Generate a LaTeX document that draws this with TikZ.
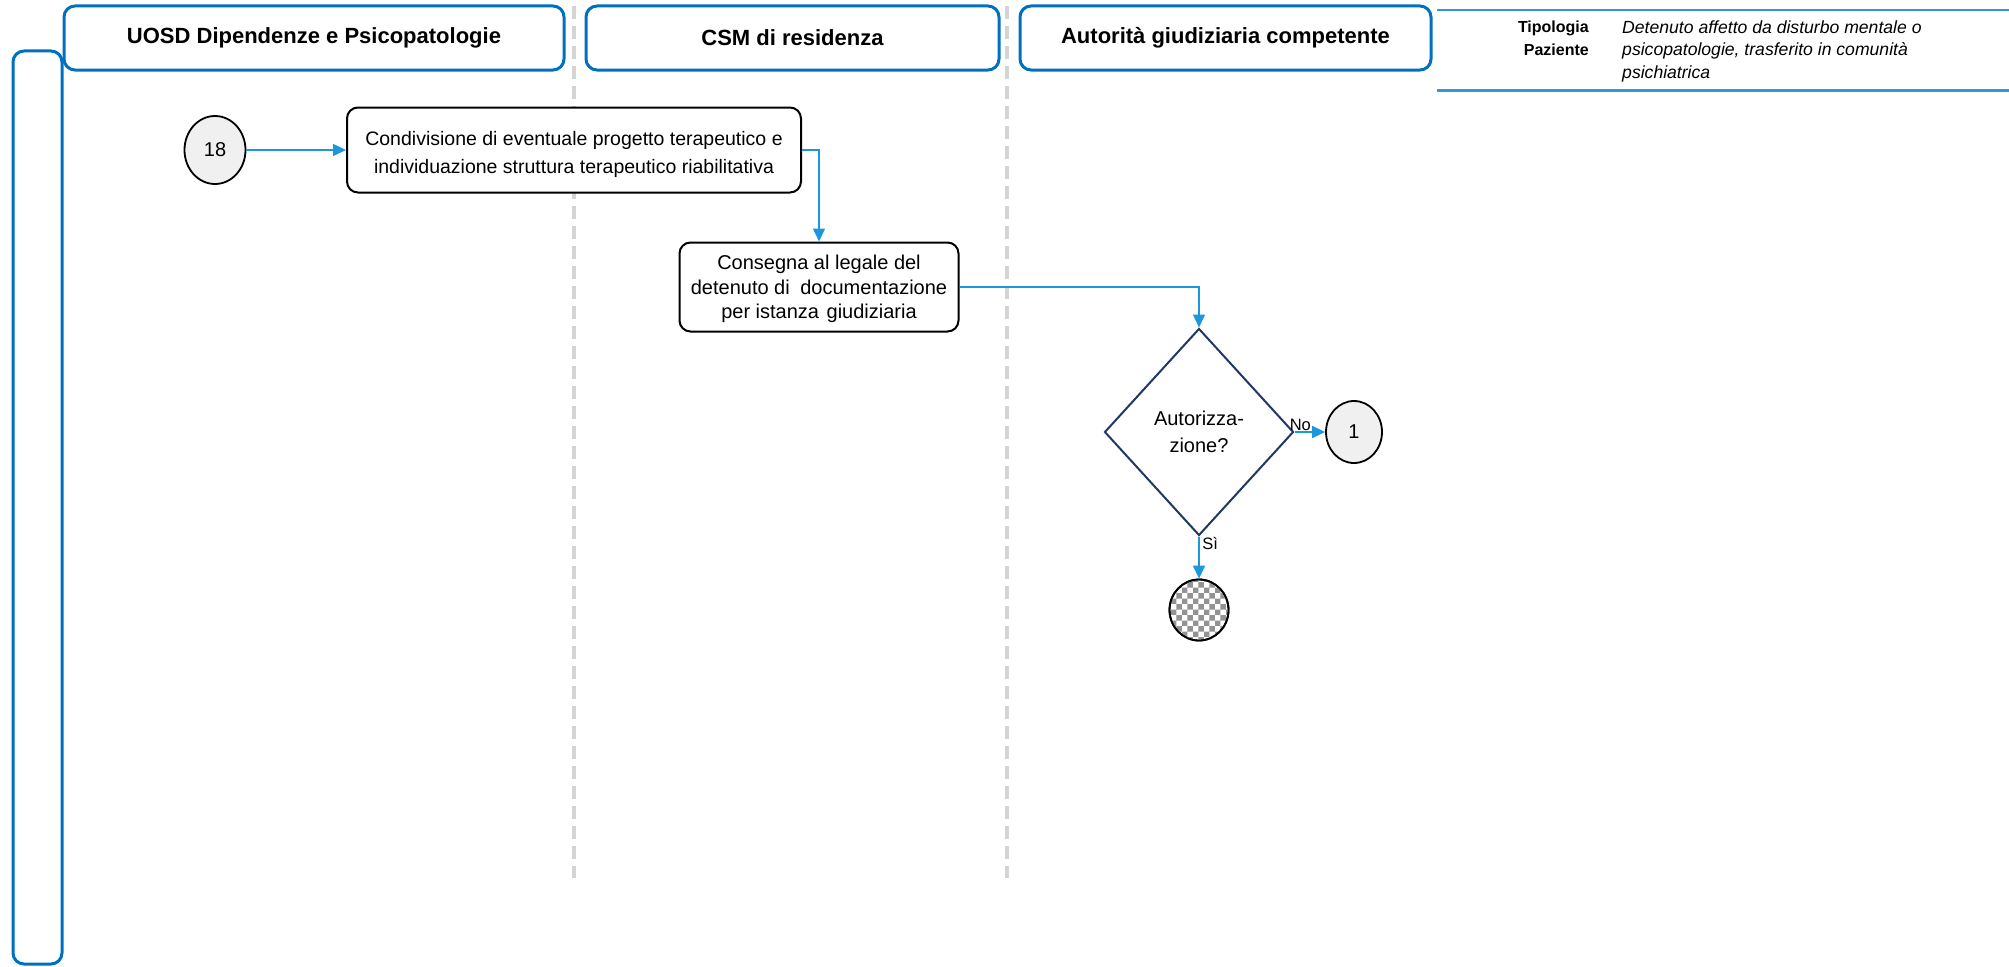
\documentclass[tikz,border=0pt]{standalone}
\usepackage{fontspec}
\setmainfont{Liberation Sans}
\usetikzlibrary{arrows.meta,shapes.geometric,patterns}

\definecolor{laneblue}{RGB}{0,112,192}
\definecolor{flowblue}{RGB}{28,150,220}
\definecolor{decnavy}{RGB}{31,56,100}
\definecolor{lanegray}{RGB}{212,212,212}
\definecolor{nodefill}{RGB}{240,240,240}
\definecolor{infoblue}{RGB}{50,150,215}

\tikzset{
  lanehead/.style={draw=laneblue, line width=3pt, rounded corners=11pt, fill=white,
    minimum height=64pt, font=\fontsize{22}{26}\selectfont\bfseries},
  lanepool/.style={draw=laneblue, line width=3pt, rounded corners=11pt, inner sep=0pt},
  lanesep/.style={draw=lanegray, line width=4pt, dash pattern=on 13pt off 7pt},
  task/.style={draw=black, line width=2pt, rounded corners=11pt, fill=white, align=center,
    inner sep=0pt},
  connector/.style={draw=black, line width=1.8pt, ellipse, fill=nodefill, inner sep=0pt,
    font=\fontsize{20}{24}\selectfont},
  decision/.style={draw=decnavy, line width=2pt, diamond, fill=white, inner sep=0pt,
    align=center, font=\fontsize{20}{27}\selectfont},
  flow/.style={draw=flowblue, line width=1.5pt, -{Triangle[length=13pt,width=12pt]}},
  flowlabel/.style={inner sep=0.5pt, font=\fontsize{16.5}{19}\selectfont},
}

\begin{document}
\begin{tikzpicture}[x=1pt,y=-1pt]
\useasboundingbox (0,0) rectangle (2009,966);

% lane separators
\draw[lanesep] (574,6) -- (574,878);
\draw[lanesep] (1007,6) -- (1007,878);

% pool bar and lane headers
\node[lanepool, minimum width=49pt, minimum height=913pt] (pool) at (37.5,507.5) {};
\node[lanehead, minimum width=500pt] (h1) at (314,38) {UOSD Dipendenze e Psicopatologie};
\node[lanehead, minimum width=413pt] (h2) at (792.5,38) {CSM di residenza};
\node[lanehead, minimum width=411pt] (h3) at (1225.5,38) {Autorità giudiziaria competente};

% patient type panel
\draw[infoblue, line width=2.5pt] (1437,10) -- (2009,10);
\draw[infoblue, line width=3pt] (1437,90) -- (2009,90);
\node[anchor=north east, align=right, inner sep=0pt,
  font=\fontsize{16}{23}\selectfont\bfseries] (tipo) at (1589,21) {Tipologia\\Paziente};
\node[anchor=north west, align=left, inner sep=0pt,
  font=\fontsize{17.6}{22.5}\selectfont\itshape] (tipotxt) at (1622,20.5)
  {Detenuto affetto da disturbo mentale o\\psicopatologie, trasferito in comunità\\psichiatrica};

% flow nodes
\node[connector, minimum width=61pt, minimum height=68pt] (c18) at (215,150) {18};
\node[task, minimum width=454pt, minimum height=85pt, font=\fontsize{19.5}{26.5}\selectfont]
  (b1) at (574,150)
  {\raisebox{-4pt}[\height][\depth]{\begin{tabular}{@{}c@{}}Condivisione di eventuale progetto terapeutico e\\[1.5pt]individuazione struttura terapeutico riabilitativa\end{tabular}}};
\node[task, minimum width=279pt, minimum height=89pt, font=\fontsize{20}{24.5}\selectfont]
  (b2) at (819,287)
  {\raisebox{-2.5pt}[\height][\depth]{\begin{tabular}{@{}c@{}}Consegna al legale del\\detenuto di\hspace{5pt} documentazione\\per istanza\hspace{2pt} giudiziaria\end{tabular}}};
\node[decision, minimum width=189pt, minimum height=207pt] (dec) at (1199,432)
  {Autorizza-\\zione?};
\node[connector, minimum width=56pt, minimum height=62pt] (c1) at (1354,432) {1};
\node[connector, fill=white, minimum width=59pt, minimum height=61pt] (fin) at (1199,610) {};
\path[pattern=checkerboard, pattern color=gray!85] (fin.center) ellipse [x radius=28.5pt, y radius=29.5pt];
\draw[black, line width=1.8pt] (fin.center) ellipse [x radius=29.5pt, y radius=30.5pt];

% connectors
\draw[flow] (c18) -- (b1);
\draw[flow] (b1.east) -| (b2.north);
\draw[flow] (b2.east) -| (dec.north);
\draw[flow] (dec.east) -- node[flowlabel, pos=0, anchor=south west, xshift=-6pt] {No} (c1);
\draw[flow] (dec.south) -- node[flowlabel, pos=0, anchor=north west, xshift=2pt] {Sì} (fin);
\end{tikzpicture}
\end{document}
